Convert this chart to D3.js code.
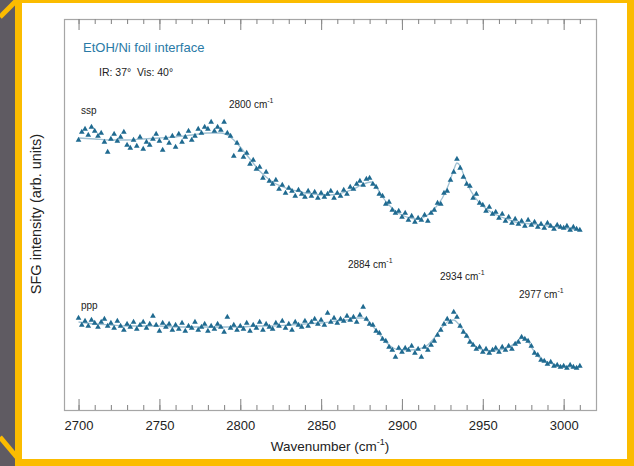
<!DOCTYPE html>
<html>
<head>
<meta charset="utf-8">
<script src="https://cdn.jsdelivr.net/npm/d3@7"></script>
<style>
  html, body { margin: 0; padding: 0; background: #fff; }
  svg { display: block; font-family: "Liberation Sans", Arial, sans-serif; }
</style>
</head>
<body>
<svg id="chart" width="634" height="466"></svg>
<script>
// ---------- data ----------
const wavenumbers = [
  2700,2702,2704,2706,2708,2710,2712,2714,2716,2718,
  2720,2722,2724,2726,2728,2730,2732,2734,2736,2738,
  2740,2742,2744,2746,2748,2750,2752,2754,2756,2758,
  2760,2762,2764,2766,2768,2770,2772,2774,2776,2778,
  2780,2782,2784,2786,2788,2790,2792,2794,2796,2798,
  2800,2802,2804,2806,2808,2810,2812,2814,2816,2818,
  2820,2822,2824,2826,2828,2830,2832,2834,2836,2838,
  2840,2842,2844,2846,2848,2850,2852,2854,2856,2858,
  2860,2862,2864,2866,2868,2870,2872,2874,2876,2878,
  2880,2882,2884,2886,2888,2890,2892,2894,2896,2898,
  2900,2902,2904,2906,2908,2910,2912,2914,2916,2918,
  2920,2922,2924,2926,2928,2930,2932,2934,2936,2938,
  2940,2942,2944,2946,2948,2950,2952,2954,2956,2958,
  2960,2962,2964,2966,2968,2970,2972,2974,2976,2978,
  2980,2982,2984,2986,2988,2990,2992,2994,2996,2998,
  3000,3002,3004,3006,3008,3010
];
const sspValues = [
  270,278,281,275,283,279,274,277,268,258,
  271,276,269,273,278,265,262,270,264,273,
  261,268,265,271,276,269,260,272,267,274,
  263,276,268,273,279,270,274,281,277,283,
  281,288,279,283,280,288,277,274,254,267,
  260,253,257,246,250,241,243,232,238,229,
  226,230,221,225,217,222,219,214,220,216,
  213,219,214,218,212,217,213,216,219,212,
  217,214,220,216,223,221,226,229,225,231,
  232,226,223,216,214,206,208,200,197,199,
  193,197,190,194,188,192,190,195,189,197,
  200,207,206,217,219,230,238,251,242,233,
  226,224,212,216,207,205,199,203,196,198,
  192,196,189,193,187,191,186,189,184,190,
  185,188,183,186,182,187,184,181,185,183,
  182,184,180,183,181,180
];
const pppValues = [
  92,85,89,84,90,87,83,88,91,84,
  87,82,89,84,80,86,83,88,81,85,
  88,82,86,94,85,79,87,83,86,80,
  85,81,87,79,84,82,88,80,83,86,
  79,84,81,86,83,78,93,82,85,80,
  84,81,87,79,85,82,88,80,86,83,
  81,87,84,89,82,86,80,88,85,83,
  89,84,88,91,86,90,85,97,88,92,
  87,91,89,94,90,93,88,95,103,91,
  86,85,79,77,71,69,63,60,53,62,
  58,62,60,64,57,61,53,63,60,65,
  69,75,80,86,91,88,98,93,84,78,
  74,68,65,61,63,58,61,57,60,62,
  58,63,60,64,61,66,68,73,71,69,
  64,57,55,50,49,46,48,44,45,43,
  44,42,45,43,42,44
];
const sspFitWn  = [2700,2710,2720,2730,2740,2750,2760,2770,2780,2788,2792,2796,2800,2804,2808,2812,2816,2820,2825,2830,2835,2840,2845,2850,2855,2860,2865,2870,2875,2881,2885,2888,2892,2896,2900,2905,2910,2915,2920,2925,2929,2932,2934,2936,2938,2941,2945,2950,2955,2960,2965,2970,2980,2990,3000,3010];
const sspFitVal = [272,271,270,270,271,272,273,275,277,277,275,270,263,255,247,239,233,228,224,221,219,217,216,215,215,216,218,221,225,228,221,213,205,199,195,192,191,194,201,212,226,240,247,244,236,224,213,204,198,194,191,188,186,184,182,180];
const pppFitWn  = [2700,2710,2720,2730,2740,2750,2760,2770,2780,2790,2800,2810,2820,2830,2840,2850,2860,2866,2872,2876,2880,2884,2888,2892,2896,2900,2905,2910,2915,2920,2925,2929,2932,2935,2938,2942,2946,2950,2955,2960,2965,2970,2974,2977,2980,2984,2990,2995,3000,3005,3010];
const pppFitVal = [88,86,85,84,84,84,83,83,83,83,83,84,84,85,86,87,89,90,92,92,87,80,72,65,61,60,60,61,64,72,83,89,90,86,79,70,63,60,59,60,62,67,72,71,63,54,48,45,44,43,43];

const xTicksMajor = [2700,2750,2800,2850,2900,2950,3000];
const xTicksMinor = [2700,2710,2720,2730,2740,2750,2760,2770,2780,2790,2800,2810,2820,2830,2840,2850,2860,2870,2880,2890,2900,2910,2920,2930,2940,2950,2960,2970,2980,2990,3000,3010];

const annotations = [
  { label: "ssp",  sup: "",   wn: 2701.5, val: 296 },
  { label: "2800 cm", sup: "-1", wn: 2793, val: 302 },
  { label: "ppp",  sup: "",   wn: 2701.5, val: 101 },
  { label: "2884 cm", sup: "-1", wn: 2866.6, val: 142 },
  { label: "2934 cm", sup: "-1", wn: 2923.5, val: 130 },
  { label: "2977 cm", sup: "-1", wn: 2972.4, val: 112 }
];

// ---------- drawing ----------
const svg = d3.select("#chart");
const W = 634, H = 466;

// decorative frame
svg.append("rect").attr("x",0).attr("y",0).attr("width",W).attr("height",H).attr("fill","#5f5b62");
svg.append("rect").attr("x",15).attr("y",0).attr("width",W-15).attr("height",H).attr("fill","#fbbc00");
svg.append("rect").attr("x",22).attr("y",3).attr("width",605).attr("height",456).attr("fill","#ffffff");
svg.append("line").attr("x1",0).attr("y1",17).attr("x2",18).attr("y2",-1)
  .attr("stroke","#fbbc00").attr("stroke-width",5);
svg.append("line").attr("x1",0).attr("y1",437).attr("x2",20).attr("y2",461)
  .attr("stroke","#fbbc00").attr("stroke-width",5);

const plot = { left: 64, right: 596, top: 19, bottom: 410 };
const x = d3.scaleLinear().domain([2691, 3020]).range([plot.left, plot.right]);
const y = d3.scaleLinear().domain([0, 391]).range([plot.bottom, plot.top]);

// frame
svg.append("rect")
  .attr("x", plot.left + 0.5).attr("y", plot.top + 0.5)
  .attr("width", plot.right - plot.left).attr("height", plot.bottom - plot.top)
  .attr("fill", "none").attr("stroke", "#a6a6a6").attr("stroke-width", 1.2);

function styleAxis(g) {
  g.select(".domain").remove();
  g.selectAll(".tick line").attr("stroke", "#8c8c8c").attr("stroke-width", 1.1);
}
// bottom axis
const gB = svg.append("g").attr("transform", `translate(0,${plot.bottom})`);
gB.call(d3.axisBottom(x).tickValues(xTicksMinor).tickSize(-5).tickFormat(""));
styleAxis(gB);
const gB2 = svg.append("g").attr("transform", `translate(0,${plot.bottom})`);
gB2.call(d3.axisBottom(x).tickValues(xTicksMajor).tickSize(-11).tickPadding(11).tickFormat(d3.format("d")));
styleAxis(gB2);
gB2.selectAll(".tick text").attr("font-size", 13).attr("fill", "#222")
  .attr("font-family", '"Liberation Sans", Arial, sans-serif');
// top axis
const gT = svg.append("g").attr("transform", `translate(0,${plot.top})`);
gT.call(d3.axisTop(x).tickValues(xTicksMinor).tickSize(-5).tickFormat(""));
styleAxis(gT);
const gT2 = svg.append("g").attr("transform", `translate(0,${plot.top})`);
gT2.call(d3.axisTop(x).tickValues(xTicksMajor).tickSize(-11).tickFormat(""));
styleAxis(gT2);

// axis titles
const xt = svg.append("text").attr("x", (plot.left + plot.right) / 2).attr("y", 451)
  .attr("text-anchor", "middle").attr("font-size", 13.5).attr("fill", "#222");
xt.append("tspan").text("Wavenumber (cm");
xt.append("tspan").attr("dy", -6).attr("font-size", 9).text("-1");
xt.append("tspan").attr("dy", 6).text(")");

svg.append("text").attr("transform", "translate(41,214) rotate(-90)")
  .attr("text-anchor", "middle").attr("font-size", 14.5).attr("fill", "#222")
  .text("SFG intensity (arb. units)");

// header texts
svg.append("text").attr("x", 83).attr("y", 52).attr("font-size", 13)
  .attr("fill", "#2a7aa6").text("EtOH/Ni foil interface");
svg.append("text").attr("x", 99).attr("y", 76).attr("font-size", 10.5)
  .attr("fill", "#222").attr("xml:space", "preserve").text("IR: 37°  Vis: 40°");

// fit lines
const line = d3.line().x(d => x(d[0])).y(d => y(d[1])).curve(d3.curveMonotoneX);
svg.append("path").datum(d3.zip(sspFitWn, sspFitVal)).attr("d", line)
  .attr("fill", "none").attr("stroke", "#9fc0d2").attr("stroke-width", 1.3);
svg.append("path").datum(d3.zip(pppFitWn, pppFitVal)).attr("d", line)
  .attr("fill", "none").attr("stroke", "#9fc0d2").attr("stroke-width", 1.3);

// data markers
const tri = d3.symbol().type(d3.symbolTriangle).size(14);
function drawSeries(vals) {
  svg.append("g").selectAll("path").data(d3.zip(wavenumbers, vals)).join("path")
    .attr("d", tri)
    .attr("transform", d => `translate(${x(d[0])},${y(d[1])})`)
    .attr("fill", "#1f6a90");
}
drawSeries(sspValues);
drawSeries(pppValues);

// annotations
annotations.forEach(a => {
  const t = svg.append("text").attr("x", x(a.wn)).attr("y", y(a.val))
    .attr("font-size", 10).attr("fill", "#222");
  t.append("tspan").text(a.label);
  if (a.sup) t.append("tspan").attr("dy", -5).attr("font-size", 7).text(a.sup);
});
</script>
</body>
</html>
